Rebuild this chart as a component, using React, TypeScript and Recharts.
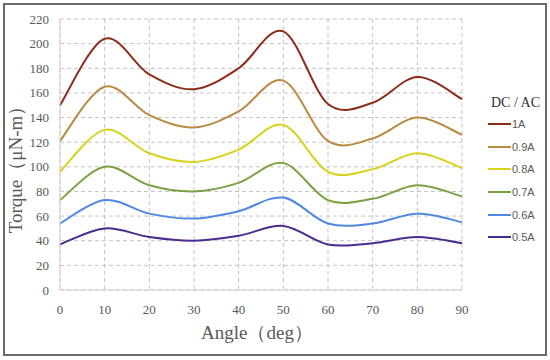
import React from 'react';
import { LineChart, Line, XAxis, YAxis, CartesianGrid, Legend, Label } from 'recharts';

const angles = [0, 10, 20, 30, 40, 50, 60, 70, 80, 90];
const s1A = [150, 204, 175, 163, 180, 210, 151, 152, 173, 155];
const s09A = [121, 165, 142, 132, 145, 170, 121, 123, 140, 126];
const s08A = [96, 130, 111, 104, 114, 134, 96, 98, 111, 99];
const s07A = [73, 100, 85, 80, 87, 103, 73, 74, 85, 76];
const s06A = [54, 73, 62, 58, 64, 75, 54, 54, 62, 55];
const s05A = [37, 50, 43, 40, 44, 52, 37, 38, 43, 38];
const yTicks = [0, 20, 40, 60, 80, 100, 120, 140, 160, 180, 200, 220];
const xTicks = [0, 10, 20, 30, 40, 50, 60, 70, 80, 90];

const seriesNames = ['1A', '0.9A', '0.8A', '0.7A', '0.6A', '0.5A'];
const seriesValues = [s1A, s09A, s08A, s07A, s06A, s05A];
const seriesColors = ['#8e2c1a', '#b98a40', '#d8d21c', '#7aa243', '#4f88e3', '#4a2b8e'];

const data = angles.map((a, i) => {
  const row: Record<string, number> = { angle: a };
  seriesNames.forEach((n, k) => {
    row[n] = seriesValues[k][i];
  });
  return row;
});

const catmull = (context: any) => {
  let pts: [number, number][] = [];
  return {
    areaStart() {},
    areaEnd() {},
    lineStart() {
      pts = [];
    },
    lineEnd() {
      if (!pts.length) return;
      context.moveTo(pts[0][0], pts[0][1]);
      for (let i = 0; i < pts.length - 1; i++) {
        const p0 = pts[i - 1] || pts[i];
        const p1 = pts[i];
        const p2 = pts[i + 1];
        const p3 = pts[i + 2] || p2;
        context.bezierCurveTo(
          p1[0] + (p2[0] - p0[0]) / 6,
          p1[1] + (p2[1] - p0[1]) / 6,
          p2[0] - (p3[0] - p1[0]) / 6,
          p2[1] - (p3[1] - p1[1]) / 6,
          p2[0],
          p2[1]
        );
      }
    },
    point(x: number, y: number) {
      pts.push([+x, +y]);
    },
  };
};

const SERIF = '"Liberation Serif", "Times New Roman", serif';

const XTick = (props: any) => {
  const { x, y, payload } = props;
  return (
    <text x={x} y={y + 12} textAnchor="middle" fill="#595959" fontSize={13} style={{ fontFamily: SERIF }}>
      {payload.value}
    </text>
  );
};

const YTick = (props: any) => {
  const { x, y, payload } = props;
  return (
    <text x={x - 1} y={y + 4.5} textAnchor="end" fill="#595959" fontSize={13} style={{ fontFamily: SERIF }}>
      {payload.value}
    </text>
  );
};

const renderLegend = (props: any) => {
  const payload = [...(props.payload || [])].sort(
    (a: any, b: any) => seriesNames.indexOf(a.value) - seriesNames.indexOf(b.value)
  );
  return (
    <div style={{ width: 60 }}>
      <div style={{ fontFamily: SERIF, fontSize: 14, color: '#333', marginLeft: 3, height: 20, lineHeight: '20px' }}>DC / AC</div>
      {payload.map((p: any) => (
        <div key={p.value} style={{ display: 'flex', alignItems: 'center', height: 22.6 }}>
          <div style={{ width: 23, height: 2, background: p.color }} />
          <span style={{ fontFamily: '"Liberation Sans", Arial, sans-serif', fontSize: 11, color: '#595959', marginLeft: 1 }}>{p.value}</span>
        </div>
      ))}
    </div>
  );
};

export default function App() {
  return (
    <div style={{ position: 'absolute', left: 0, top: 0, width: 550, height: 360, background: '#fff' }}>
      <div style={{ position: 'absolute', left: 3, top: 3, width: 540, height: 349, border: '2px solid #6a6a6a' }} />
      <div style={{ position: 'absolute', left: 0, top: 0 }}>
        <LineChart width={550} height={360} data={data} margin={{ top: 19, right: 88, bottom: 0, left: 0 }}>
          <CartesianGrid stroke="#c4c4c4" strokeDasharray="4 3" />
          <XAxis
            dataKey="angle"
            type="number"
            domain={[0, 90]}
            ticks={xTicks}
            height={70}
            tickLine={false}
            axisLine={{ stroke: '#d0d0d0' }}
            tick={<XTick />}
            tickMargin={6}
            interval={0}
          >
            <Label
              content={() => (
                <text x={257} y={339} textAnchor="middle" fill="#595959" fontSize={19} style={{ fontFamily: SERIF }}>
                  Angle（deg）
                </text>
              )}
            />
          </XAxis>
          <YAxis
            type="number"
            domain={[0, 220]}
            ticks={yTicks}
            width={60}
            tickLine={false}
            axisLine={{ stroke: '#d0d0d0' }}
            tick={<YTick />}
            tickMargin={4}
            interval={0}
          >
            <Label
              content={() => (
                <text x={22} y={165} transform="rotate(-90 22 165)" textAnchor="middle" fill="#595959" fontSize={19} style={{ fontFamily: SERIF }}>
                  Torque（μN-m）
                </text>
              )}
            />
          </YAxis>
          <Legend
            layout="horizontal"
            verticalAlign="middle"
            align="center"
            content={renderLegend}
            wrapperStyle={{ position: 'absolute', left: 488, top: 93, width: 60 }}
          />
          {seriesNames.map((n, k) => (
            <Line
              key={n}
              dataKey={n}
              name={n}
              type={catmull as any}
              stroke={seriesColors[k]}
              strokeWidth={2}
              dot={false}
              activeDot={false}
              isAnimationActive={false}
            />
          ))}
        </LineChart>
      </div>
    </div>
  );
}
